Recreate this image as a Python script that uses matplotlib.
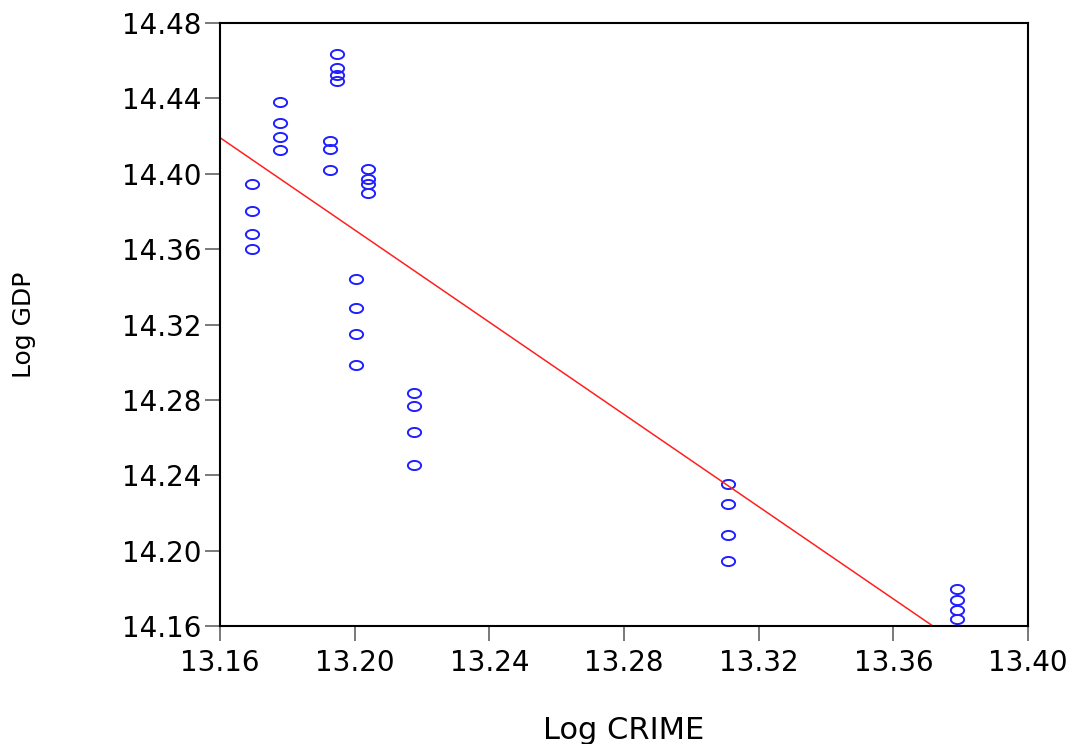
import numpy as np
import matplotlib
matplotlib.use("Agg")
import matplotlib.pyplot as plt
from matplotlib.path import Path

# Log CRIME (x) and Log GDP (y)
log_crime = [13.1694] * 4 + [13.1778] * 4 + [13.1927] * 3 + [13.1947] * 4 + \
            [13.2041] * 4 + [13.2003] * 4 + [13.2177] * 4 + [13.3110] * 4 + [13.3788] * 4
log_gdp = [14.3947, 14.3800, 14.3680, 14.3600,
           14.4380, 14.4270, 14.4193, 14.4124,
           14.4174, 14.4131, 14.4018,
           14.4635, 14.4560, 14.4524, 14.4492,
           14.4027, 14.3970, 14.3944, 14.3896,
           14.3443, 14.3289, 14.3150, 14.2984,
           14.2835, 14.2767, 14.2630, 14.2456,
           14.2355, 14.2247, 14.2083, 14.1947,
           14.1797, 14.1739, 14.1686, 14.1636]

x = np.array(log_crime)
y = np.array(log_gdp)
slope, icpt = np.polyfit(x, y, 1)

# wide oval marker (the original picture is horizontally stretched)
t = np.linspace(0, 2 * np.pi, 60)
oval = Path(np.column_stack([1.45 * np.cos(t), np.sin(t)]), closed=True)

plt.rcParams["font.family"] = "DejaVu Sans"
fig = plt.figure(figsize=(10.81, 7.44), dpi=100)
ax = fig.add_axes([220 / 1081, 1 - 626 / 744, 808 / 1081, 603 / 744])

ax.plot(x, y, ls="none", marker=oval, ms=9.5, mfc="none", mec="#1f1fff", mew=1.4)
xl = np.array([13.16, 13.40])
ax.plot(xl, icpt + slope * xl, color="#ff2020", lw=1.1)

ax.set_xlim(13.16, 13.40)
ax.set_ylim(14.16, 14.48)
ax.set_xticks(np.arange(13.16, 13.401, 0.04))
ax.set_yticks(np.arange(14.16, 14.481, 0.04))
ax.xaxis.set_major_formatter(matplotlib.ticker.FormatStrFormatter("%.2f"))
ax.yaxis.set_major_formatter(matplotlib.ticker.FormatStrFormatter("%.2f"))
ax.tick_params(direction="out", length=10.5, width=1.1, color="#555555",
               labelsize=20, labelcolor="black")
ax.tick_params(axis="y", pad=3)
ax.tick_params(axis="x", pad=6)
for s in ax.spines.values():
    s.set_linewidth(1.5)
    s.set_color("black")

ax.set_xlabel("Log CRIME", fontsize=22, labelpad=28)
ax.set_ylabel("Log GDP", fontsize=18, labelpad=62)

fig.savefig("out.png", dpi=100)
